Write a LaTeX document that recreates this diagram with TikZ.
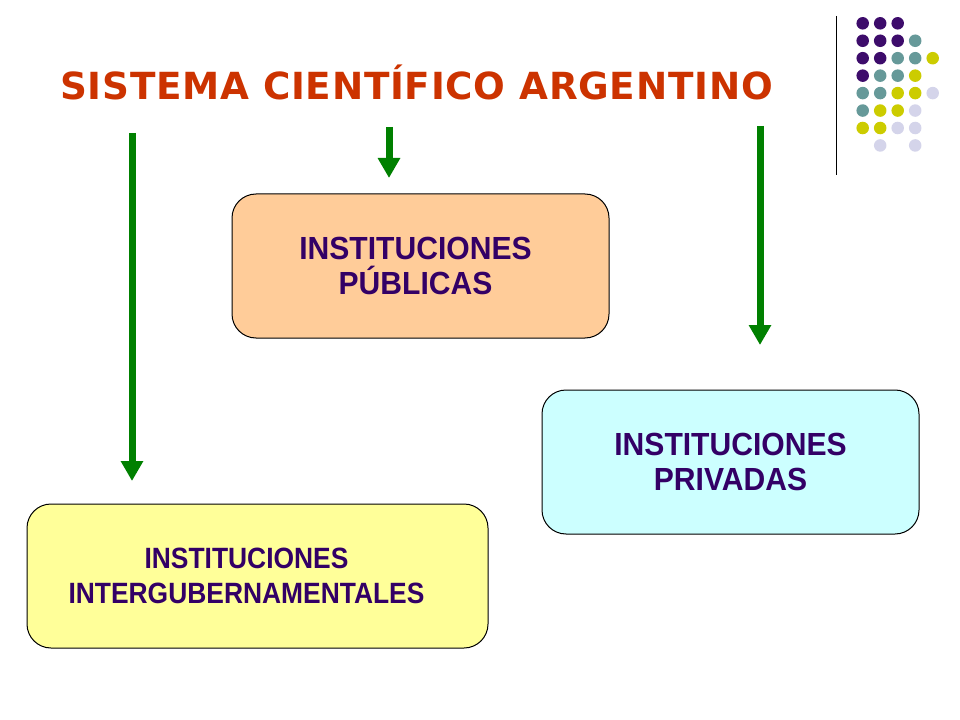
\documentclass[tikz,border=0pt]{standalone}
\usepackage{fontspec}
\usepackage{tikz}
\usetikzlibrary{arrows.meta,positioning}
\newfontfamily\titlefont[LetterSpace=2]{DejaVu Sans}
\newfontfamily\boxfont[FakeStretch=0.94]{Liberation Sans}
\newfontfamily\narrowfont[FakeStretch=0.9]{Liberation Sans}
\definecolor{titlered}{HTML}{CC3300}
\definecolor{arrowgreen}{HTML}{008000}
\definecolor{boxtext}{HTML}{330066}
\definecolor{publicfill}{HTML}{FFCC99}
\definecolor{privatefill}{HTML}{CCFFFF}
\definecolor{interfill}{HTML}{FFFF99}
\definecolor{dotpurple}{HTML}{3D0C6B}
\definecolor{dotteal}{HTML}{669999}
\definecolor{dotyellow}{HTML}{CCCC00}
\definecolor{dotlilac}{HTML}{D4D4EA}

\begin{document}
\begin{tikzpicture}[x=0.75pt,y=-0.75pt,
    instbox/.style={draw=black,line width=0.75pt,rounded corners=18pt,
        minimum width=282.75pt,minimum height=108pt,align=center,text=boxtext,
        font=\boxfont\bfseries\fontsize{24}{26.25}\selectfont},
    bigarrow/.style={arrowgreen,line width=5.25pt,-{Triangle[length=15pt,width=16pt]}}]
    % Page frame
    \useasboundingbox (0,0) rectangle (960,720);
    
    % Corner decoration
    \draw[black,line width=0.75pt] (836.7,16) -- (836.7,175);
    \foreach \c/\r/\col in {0/0/dotpurple,1/0/dotpurple,2/0/dotpurple,
        0/1/dotpurple,1/1/dotpurple,2/1/dotpurple,3/1/dotteal,
        0/2/dotpurple,1/2/dotpurple,2/2/dotteal,3/2/dotteal,4/2/dotyellow,
        0/3/dotpurple,1/3/dotteal,2/3/dotteal,3/3/dotyellow,
        0/4/dotteal,1/4/dotteal,2/4/dotyellow,3/4/dotyellow,4/4/dotlilac,
        0/5/dotteal,1/5/dotyellow,2/5/dotyellow,3/5/dotlilac,
        0/6/dotyellow,1/6/dotyellow,2/6/dotlilac,3/6/dotlilac,
        1/7/dotlilac,3/7/dotlilac}
        \fill[\col] ({862.7+17.5*\c},{23.3+17.45*\r}) circle (4.7pt);
    
    % Title
    \node[anchor=base,text=titlered,font=\titlefont\bfseries\fontsize{28}{32}\selectfont] (title) at (416.5,100) {SISTEMA CIENTÍFICO ARGENTINO};
    
    % Institution boxes
    \node[instbox,fill=publicfill] (publicas) at (420.5,266) {INSTITUCIONES\hspace*{7.5pt}\\PÚBLICAS\hspace*{7.5pt}};
    \node[instbox,fill=privatefill] (privadas) at (730.5,462) {INSTITUCIONES\\PRIVADAS};
    \node[instbox,fill=interfill,minimum width=345.75pt,font=\narrowfont\bfseries\fontsize{22}{26}\selectfont] (intergub) at (257.5,576) {INSTITUCIONES\hspace*{16.5pt}\\INTERGUBERNAMENTALES\hspace*{16.5pt}};
    
    % Arrows
    \coordinate (lefttop) at (132,133);
    \coordinate (lefttip) at (132,481);
    \coordinate (midtop) at (389,127);
    \coordinate (midtip) at (389,178);
    \coordinate (righttop) at (760,126);
    \coordinate (righttip) at (760,345);
    \draw[bigarrow] (lefttop) -- (lefttip);
    \draw[bigarrow] (midtop) -- (midtip);
    \draw[bigarrow] (righttop) -- (righttip);
    
\end{tikzpicture}
\end{document}
